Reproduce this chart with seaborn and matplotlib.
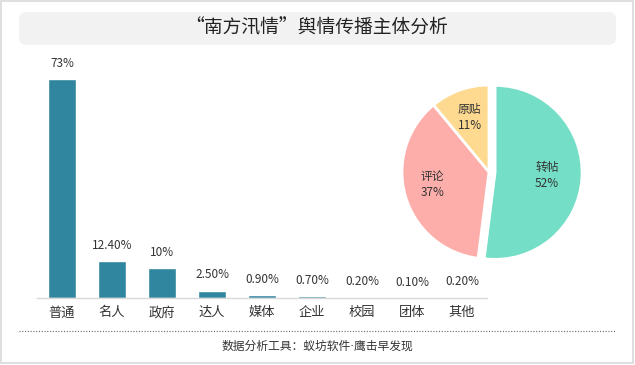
import matplotlib
matplotlib.use("Agg")
import matplotlib.pyplot as plt
from matplotlib.patches import FancyBboxPatch, Rectangle
from matplotlib.lines import Line2D
import seaborn as sns
import pandas as pd
import numpy as np

categories = ["普通", "名人", "政府", "达人", "媒体", "企业", "校园", "团体", "其他"]
values = [73, 12.4, 10, 2.5, 0.9, 0.7, 0.2, 0.1, 0.2]
value_labels = ["73%", "12.40%", "10%", "2.50%", "0.90%", "0.70%", "0.20%", "0.10%", "0.20%"]

pie_labels = ["转帖", "评论", "原贴"]
pie_values = [52, 37, 11]
pie_colors = ["#74DEC6", "#FDAEAB", "#FDDA8F"]

title = "“南方汛情”舆情传播主体分析"
footer = "数据分析工具：蚁坊软件·鹰击早发现"

sns.set_theme(style="white")
plt.rcParams['font.family'] = ['Noto Sans CJK SC', 'DejaVu Sans']

W, H = 635, 365
fig = plt.figure(figsize=(W / 100, H / 100), dpi=100)
fig.patch.set_facecolor("white")

def fx(px):
    return px / W

def fy(py):
    return 1 - py / H

# outer border
fig.patches.append(Rectangle((fx(1), fy(363)), fx(632), 362 / H, transform=fig.transFigure,
                             fill=False, edgecolor="#D9D9D9", linewidth=1.2))
# title box
fig.patches.append(FancyBboxPatch((fx(19), fy(45)), fx(597), 33 / H,
                                  boxstyle="round,pad=0,rounding_size=0.012",
                                  transform=fig.transFigure, facecolor="#F2F2F2",
                                  edgecolor="none", mutation_aspect=W / H))
fig.text(fx(317), fy(28), title, ha="center", va="center", fontsize=13.5, color="#222222")

# bar chart
ax = fig.add_axes([fx(37), 1 - 298 / H, 450 / W, 240 / H])
df = pd.DataFrame({"cat": categories, "val": values})
sns.barplot(data=df, x="cat", y="val", color="#30869E", saturation=1, width=0.56, ax=ax)
ax.set_ylim(0, 80)
ax.set_xlim(-0.5, len(categories) - 0.5)
ax.set_xlabel("")
ax.set_ylabel("")
ax.set_yticks([])
for s in ["top", "right", "left"]:
    ax.spines[s].set_visible(False)
ax.spines["bottom"].set_color("#D9D9D9")
ax.spines["bottom"].set_linewidth(1)
ax.tick_params(axis="x", length=0, pad=6, labelsize=9.5, labelcolor="#333333")
ax.set_facecolor("none")
for i, (v, lab) in enumerate(zip(values, value_labels)):
    ax.text(i, v + 3, lab, ha="center", va="bottom", fontsize=8.5, color="#333333")

# dotted separator
fig.lines.append(Line2D([fx(19), fx(616)], [fy(331), fy(331)], transform=fig.transFigure,
                        color="#666666", linewidth=0.8, linestyle=(0, (1, 1.5))))
fig.text(fx(317), fy(346), footer, ha="center", va="center", fontsize=8.5, color="#333333",
         family=['DejaVu Sans', 'Noto Sans CJK SC'])

# pie chart
R = 87
lim = 1.15
size = 2 * lim * R
cx, cy = 489, 172
pax = fig.add_axes([fx(cx - size / 2), 1 - (cy + size / 2) / H, size / W, size / H])
explode = [0.07, 0, 0]
wedges, texts = pax.pie(pie_values, colors=pie_colors, startangle=90, counterclock=False,
                        explode=explode, labels=[f"{l}\n{v}%" for l, v in zip(pie_labels, pie_values)],
                        labeldistance=0.62, wedgeprops=dict(edgecolor="white", linewidth=2),
                        textprops=dict(fontsize=8.5, color="#333333", ha="center", va="center",
                                       linespacing=1.3))
label_dist = [0.6, 0.68, 0.66]
for w, t, d, e in zip(wedges, texts, label_dist, explode):
    ang = np.deg2rad((w.theta1 + w.theta2) / 2)
    t.set_position(((d + e) * np.cos(ang), (d + e) * np.sin(ang) + (0.05 if d > 0.67 else 0)))
pax.set_xlim(-lim, lim)
pax.set_ylim(-lim, lim)
pax.set_aspect("equal")
pax.axis("off")

fig.savefig("out.png", dpi=100)
